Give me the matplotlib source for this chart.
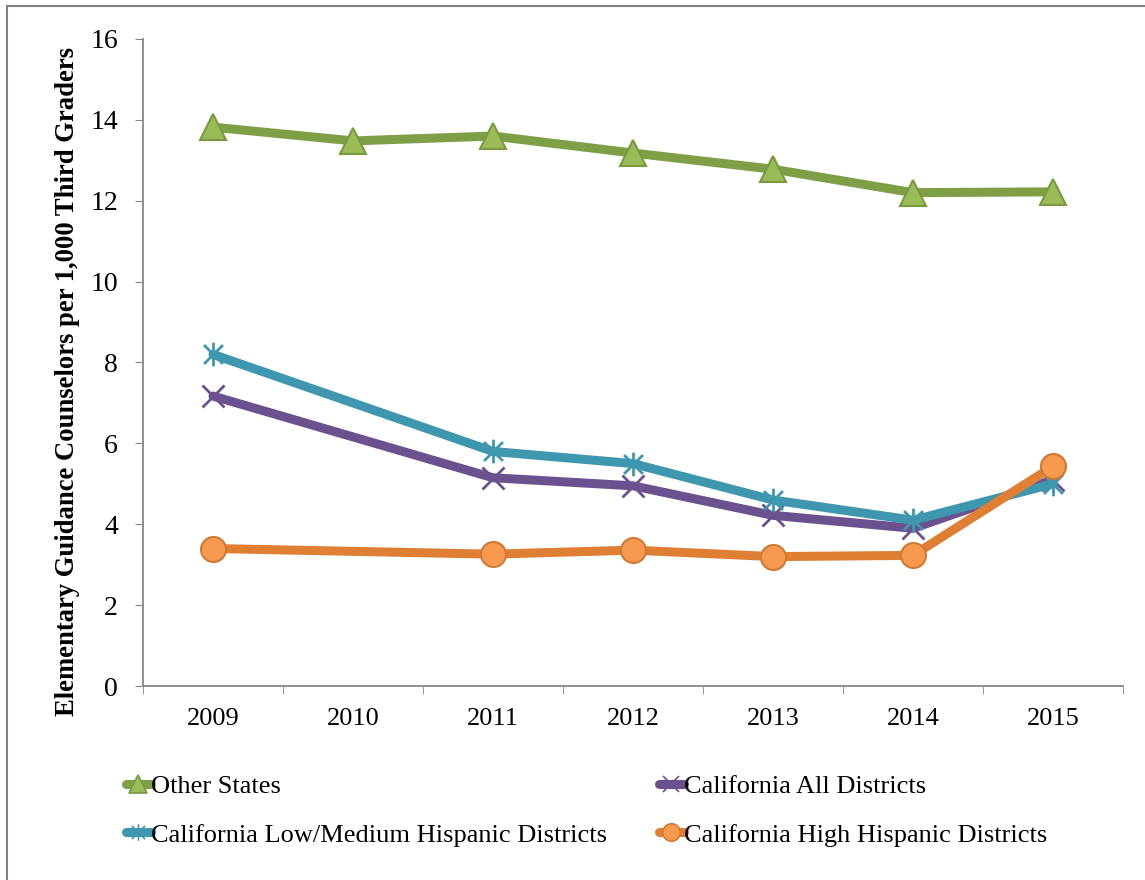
import matplotlib
matplotlib.use("Agg")
import matplotlib.pyplot as plt
from matplotlib.patches import Rectangle
from matplotlib.lines import Line2D
from matplotlib.path import Path

years = ["2009", "2010", "2011", "2012", "2013", "2014", "2015"]
other_states = [13.82, 13.48, 13.6, 13.18, 12.78, 12.2, 12.22]
ca_years = ["2009", "2011", "2012", "2013", "2014", "2015"]
ca_all = [7.17, 5.15, 4.95, 4.22, 3.9, 5.1]
ca_lowmed = [8.2, 5.8, 5.5, 4.6, 4.1, 5.0]
ca_high = [3.4, 3.26, 3.36, 3.2, 3.23, 5.43]
yticks = [0, 2, 4, 6, 8, 10, 12, 14, 16]

serif = ["Liberation Serif", "DejaVu Serif"]
plt.rcParams["font.family"] = serif

fig = plt.figure(figsize=(11.45, 8.8), dpi=100)
ax = fig.add_axes([143/1145, 1-686/880, (1123-143)/1145, (686-39)/880])

xi = {y: i for i, y in enumerate(years)}
xo = [xi[y] for y in years]
xc = [xi[y] for y in ca_years]

star = Path([(-1, -1), (1, 1), (-1, 1), (1, -1), (0, -1.25), (0, 1.25)],
            [Path.MOVETO, Path.LINETO, Path.MOVETO, Path.LINETO, Path.MOVETO, Path.LINETO])

series = [
    ("Other States", xo, other_states, "#7F9F47", "^", "#9BBB59", "#789A40", 19),
    ("California All Districts", xc, ca_all, "#6B528E", "x", "#6B528E", "#6B528E", 16),
    ("California Low/Medium Hispanic Districts", xc, ca_lowmed, "#3E97AE", star, "#3E97AE", "#3E97AE", 17),
    ("California High Hispanic Districts", xc, ca_high, "#DE7F34", "o", "#F79A50", "#D07A38", 18),
]
handles = {}
for name, xs, ys, lc, mk, mfc, mec, ms in series:
    ax.plot(xs, ys, color=lc, lw=6.5, solid_capstyle="round", solid_joinstyle="round",
            marker=mk, markersize=ms, markerfacecolor=mfc, markeredgecolor=mec,
            markeredgewidth=1.5 if mk in ("^", "o") else 2.0, zorder=3)
    handles[name] = Line2D([0], [0], color=lc, lw=6.5, solid_capstyle="round", marker=mk,
                           markersize=ms*0.7, markerfacecolor=mfc, markeredgecolor=mec,
                           markeredgewidth=1.2, label=name)

ax.set_xlim(-0.5, len(years) - 0.5)
ax.set_ylim(0, 16)
ax.set_yticks(yticks)
ax.set_yticklabels([str(t) for t in yticks], fontsize=20)
ax.set_xticks(range(len(years)))
ax.set_xticklabels(years, fontsize=19)
ax.set_xticks([i - 0.5 for i in range(len(years) + 1)], minor=True)
ax.tick_params(axis="x", which="major", length=0, pad=16)
ax.tick_params(axis="x", which="minor", length=6, color="#868686", direction="out")
ax.tick_params(axis="y", length=6, color="#868686", direction="out", pad=12)
for s in ("top", "right"):
    ax.spines[s].set_visible(False)
for s in ("left", "bottom"):
    ax.spines[s].set_color("#868686")
    ax.spines[s].set_linewidth(1.3)

ax.set_ylabel("Elementary Guidance Counselors per 1,000 Third Graders",
              fontsize=19.2, fontweight="bold", va="center")
ax.yaxis.set_label_coords((68 - 143) / 980, 1 - (382 - 39) / 647)

order = ["Other States", "California Low/Medium Hispanic Districts",
         "California All Districts", "California High Hispanic Districts"]
leg = fig.legend(handles=[handles[n] for n in order], loc="upper left",
                 bbox_to_anchor=(115/1145, 1-764/880),
                 ncol=2, frameon=False, fontsize=19, handlelength=0.95, handletextpad=0.0,
                 columnspacing=1.97, labelspacing=0.95, borderaxespad=0)

fig.patches.append(Rectangle((7/1145, -0.01), 1, 1-6/880+0.01, transform=fig.transFigure,
                             fill=False, edgecolor="#808080", lw=1.5))

fig.savefig("out.png", dpi=100)
